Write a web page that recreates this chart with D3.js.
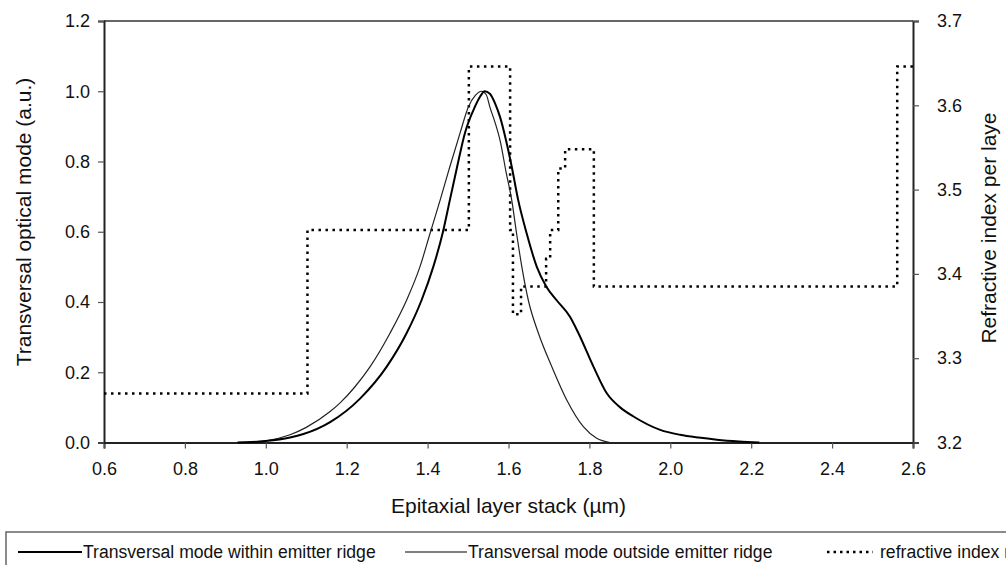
<!DOCTYPE html>
<html>
<head>
<meta charset="utf-8">
<script src="https://cdn.jsdelivr.net/npm/d3@7"></script>
<style>
  body { margin: 0; background: #fff; }
  svg { display: block; font-family: Arial, "Liberation Sans", sans-serif; }
</style>
</head>
<body>
<svg id="viz" width="1006" height="565"></svg>
<script>
// transversal mode within emitter ridge (thick line)
var withinX = [0.93, 1.00, 1.06, 1.093, 1.159, 1.233, 1.299, 1.348, 1.385, 1.414, 1.437, 1.455, 1.473, 1.492, 1.517, 1.530, 1.541, 1.554, 1.567, 1.579, 1.594, 1.608, 1.624, 1.645, 1.670, 1.694, 1.719, 1.752, 1.773, 1.810, 1.843, 1.876, 1.909, 1.975, 2.024, 2.070, 2.115, 2.17, 2.22];
var withinY = [0, 0.004, 0.014, 0.024, 0.058, 0.125, 0.216, 0.311, 0.405, 0.500, 0.595, 0.690, 0.785, 0.880, 0.956, 0.985, 1.0, 0.993, 0.965, 0.927, 0.86, 0.785, 0.69, 0.595, 0.500, 0.443, 0.405, 0.358, 0.311, 0.216, 0.140, 0.100, 0.074, 0.036, 0.022, 0.014, 0.008, 0.003, 0];

// transversal mode outside emitter ridge (thin line)
var outsideX = [0.93, 1.00, 1.06, 1.10, 1.159, 1.183, 1.22, 1.258, 1.307, 1.348, 1.381, 1.406, 1.431, 1.455, 1.480, 1.501, 1.518, 1.533, 1.545, 1.554, 1.567, 1.579, 1.594, 1.608, 1.620, 1.633, 1.649, 1.674, 1.707, 1.744, 1.785, 1.818, 1.851];
var outsideY = [0, 0.005, 0.022, 0.043, 0.088, 0.112, 0.158, 0.216, 0.311, 0.405, 0.500, 0.595, 0.690, 0.785, 0.880, 0.956, 0.988, 1.0, 0.99, 0.955, 0.91, 0.861, 0.77, 0.69, 0.595, 0.500, 0.405, 0.311, 0.216, 0.121, 0.045, 0.012, 0];

// refractive index per layer: layer start, layer end, index
var layerStart = [0.6, 1.103, 1.502, 1.604, 1.611, 1.631, 1.693, 1.703, 1.723, 1.740, 1.811, 2.561];
var layerEnd   = [1.103, 1.502, 1.604, 1.611, 1.631, 1.693, 1.703, 1.723, 1.740, 1.811, 2.561, 2.6];
var layerIndex = [3.258, 3.452, 3.646, 3.452, 3.352, 3.385, 3.418, 3.452, 3.525, 3.548, 3.385, 3.646];

var xTicks = [0.6, 0.8, 1.0, 1.2, 1.4, 1.6, 1.8, 2.0, 2.2, 2.4, 2.6];
var yTicks = [0, 0.2, 0.4, 0.6, 0.8, 1.0, 1.2];
var nTicks = [3.2, 3.3, 3.4, 3.5, 3.6, 3.7];

var legendNames = ["Transversal mode within emitter ridge", "Transversal mode outside emitter ridge", "refractive index n"];

function drawChart(){
  var left = 104, right = 913, plotTop = 21, bottom = 442.5;

  var svg = d3.select("#viz");

  var x = d3.scaleLinear().domain([0.6, 2.6]).range([left, right]);
  var y = d3.scaleLinear().domain([0, 1.2]).range([bottom, plotTop]);
  var yN = d3.scaleLinear().domain([3.2, 3.7]).range([bottom, plotTop]);

  // plot box top line
  svg.append("line")
    .attr("x1", left).attr("x2", right).attr("y1", plotTop).attr("y2", plotTop)
    .attr("stroke", "#333").attr("stroke-width", 1.5);

  // axes
  var xAxis = svg.append("g")
    .attr("transform", "translate(0," + bottom + ")")
    .call(d3.axisBottom(x).tickValues(xTicks).tickFormat(d3.format(".1f")).tickSize(6).tickPadding(14));
  var yAxis = svg.append("g")
    .attr("transform", "translate(" + left + ",0)")
    .call(d3.axisLeft(y).tickValues(yTicks).tickFormat(d3.format(".1f")).tickSize(6).tickPadding(8));
  var nAxis = svg.append("g")
    .attr("transform", "translate(" + right + ",0)")
    .call(d3.axisRight(yN).tickValues(nTicks).tickFormat(d3.format(".1f")).tickSize(6).tickPadding(18));

  [xAxis, yAxis, nAxis].forEach(function(g){
    g.select(".domain").attr("stroke", "#222").attr("stroke-width", 2);
    g.selectAll(".tick line").attr("stroke", "#555").attr("stroke-width", 1.2);
    g.selectAll(".tick text").attr("font-size", 18).attr("fill", "#111")
      .attr("font-family", "Arial, 'Liberation Sans', sans-serif");
  });

  // refractive index step line
  var steps = [];
  layerStart.forEach(function(s, i){
    steps.push([s, layerIndex[i]]);
    steps.push([layerEnd[i], layerIndex[i]]);
  });
  svg.append("path")
    .datum(steps)
    .attr("fill", "none")
    .attr("stroke", "#000")
    .attr("stroke-width", 2.5)
    .attr("stroke-dasharray", "2.5,4.5")
    .attr("d", d3.line().x(d => x(d[0])).y(d => yN(d[1])));

  // mode curves
  var modeLine = d3.line().curve(d3.curveMonotoneX).x(d => x(d[0])).y(d => y(d[1]));

  svg.append("path")
    .datum(outsideX.map((v, i) => [v, outsideY[i]]))
    .attr("fill", "none").attr("stroke", "#222").attr("stroke-width", 1.2)
    .attr("d", modeLine);

  svg.append("path")
    .datum(withinX.map((v, i) => [v, withinY[i]]))
    .attr("fill", "none").attr("stroke", "#000").attr("stroke-width", 2)
    .attr("d", modeLine);

  // axis titles
  svg.append("text")
    .attr("x", (left + right) / 2).attr("y", 513)
    .attr("text-anchor", "middle").attr("font-size", 21).attr("fill", "#111")
    .text("Epitaxial layer stack (µm)");

  svg.append("text")
    .attr("transform", "translate(31,222) rotate(-90)")
    .attr("text-anchor", "middle").attr("font-size", 21).attr("fill", "#111")
    .text("Transversal optical mode (a.u.)");

  svg.append("text")
    .attr("transform", "translate(996,228) rotate(-90)")
    .attr("text-anchor", "middle").attr("font-size", 21).attr("fill", "#111")
    .text("Refractive index per laye");

  // legend
  var legend = svg.append("g");
  legend.append("rect")
    .attr("x", 6).attr("y", 532).attr("width", 1100).attr("height", 60)
    .attr("fill", "#fff").attr("stroke", "#666").attr("stroke-width", 1.5);

  var legendX = [18, 405, 827];
  var legendW = [64, 62, 46];
  var legendStyle = [
    {w: 2, dash: null},
    {w: 1.2, dash: null},
    {w: 2.5, dash: "2.5,4"}
  ];
  legendNames.forEach(function(name, i){
    legend.append("line")
      .attr("x1", legendX[i]).attr("x2", legendX[i] + legendW[i])
      .attr("y1", 552).attr("y2", 552)
      .attr("stroke", "#000").attr("stroke-width", legendStyle[i].w)
      .attr("stroke-dasharray", legendStyle[i].dash);
    legend.append("text")
      .attr("x", legendX[i] + legendW[i] + (i == 2 ? 7 : 1)).attr("y", 558)
      .attr("font-size", 17.6).attr("fill", "#111")
      .text(name);
  });
}

drawChart();
</script>
</body>
</html>
